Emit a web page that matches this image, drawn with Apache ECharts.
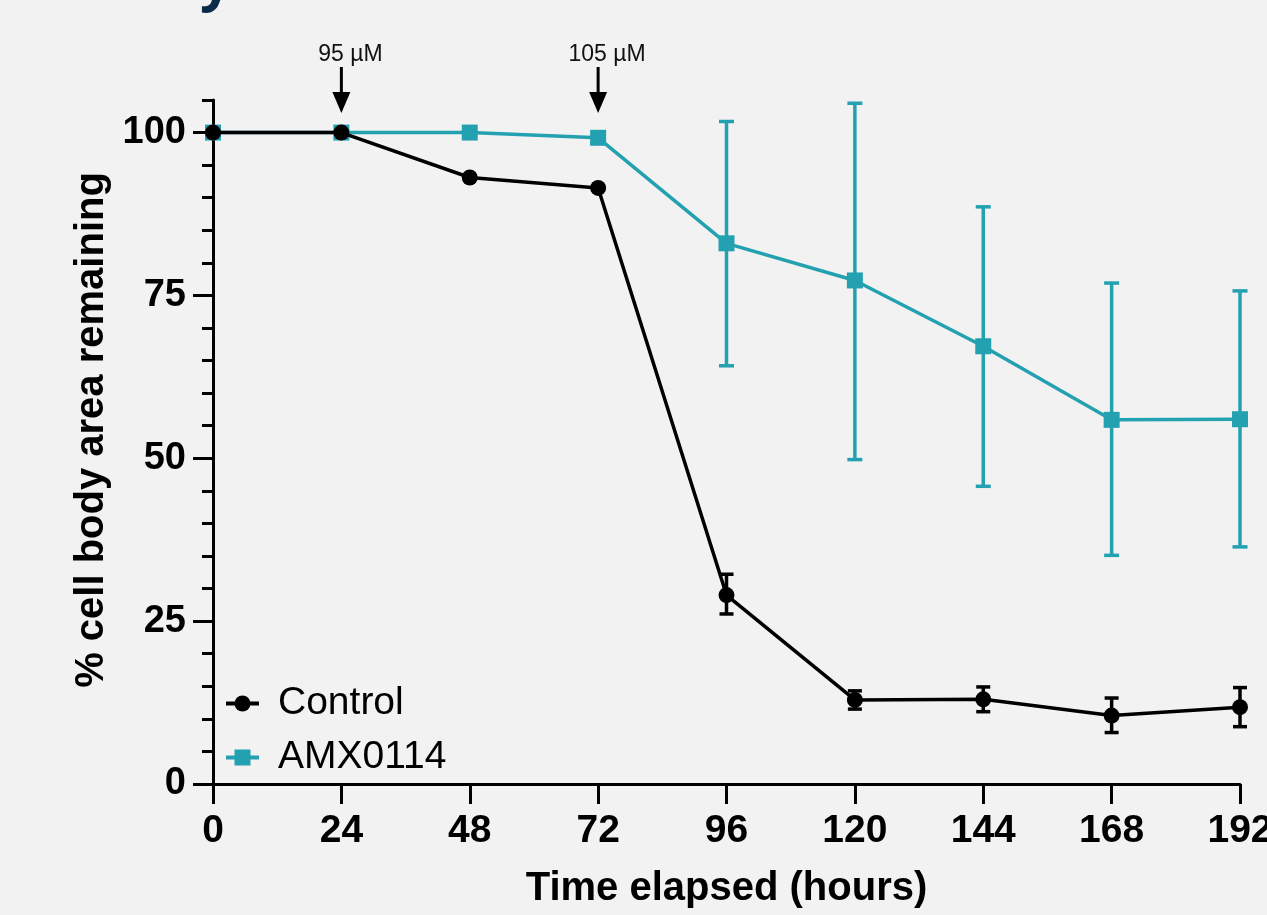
<!DOCTYPE html>
<html><head><meta charset="utf-8">
<script src="https://cdn.jsdelivr.net/npm/echarts@6/dist/echarts.min.js"></script>
<style>html,body{margin:0;padding:0;background:#f2f2f2}#c{width:1267px;height:915px}</style>
</head><body><div id="c"></div>
<script>
const hours = [0, 24, 48, 72, 96, 120, 144, 168, 192];
const controlMean = [100, 100, 93.1, 91.5, 29.0, 12.9, 13.0, 10.5, 11.8];
const controlLow  = [100, 100, 93.1, 91.5, 26.1, 11.5, 11.1, 7.9, 8.8];
const controlHigh = [100, 100, 93.1, 91.5, 32.2, 14.3, 14.9, 13.2, 14.8];
const amxMean = [100, 100, 100, 99.2, 83.0, 77.3, 67.2, 55.9, 56.0];
const amxLow  = [100, 100, 100, 99.2, 64.2, 49.8, 45.7, 35.1, 36.4];
const amxHigh = [100, 100, 100, 99.2, 101.7, 104.5, 88.6, 76.9, 75.7];
const yTicks = [0, 25, 50, 75, 100];
const doseHours = [24, 72];
const doseLabels = ['95 µM', '105 µM'];

const FONT = 'Liberation Sans, Arial, sans-serif';
const TEAL = '#24a1b1';
const BLACK = '#000000';
const Y_MAX = 105;

function pairs(ys) { return hours.map((h, i) => [h, ys[i]]); }
function errData(lo, hi) { return hours.map((h, i) => [h, lo[i], hi[i]]); }

function errRender(color, cap, lw) {
  return function (params, api) {
    const x = api.value(0), lo = api.value(1), hi = api.value(2);
    if (hi - lo < 0.01) return;
    const p1 = api.coord([x, hi]), p2 = api.coord([x, lo]);
    const h = cap / 2;
    const st = { stroke: color, lineWidth: lw };
    return { type: 'group', children: [
      { type: 'line', shape: { x1: p1[0], y1: p1[1], x2: p2[0], y2: p2[1] }, style: st },
      { type: 'line', shape: { x1: p1[0] - h, y1: p1[1], x2: p1[0] + h, y2: p1[1] }, style: st },
      { type: 'line', shape: { x1: p2[0] - h, y1: p2[1], x2: p2[0] + h, y2: p2[1] }, style: st }
    ] };
  };
}

function doseRender(params, api) {
  const x = api.value(0);
  const p = api.coord([x, Y_MAX]);
  const top = p[1];
  const cx = p[0];
  const label = doseLabels[params.dataIndex];
  return { type: 'group', children: [
    { type: 'text', style: { text: label, x: cx + 9, y: top - 45, align: 'center', verticalAlign: 'middle',
        font: 'normal 23px ' + FONT, fill: '#111' } },
    { type: 'line', shape: { x1: cx, y1: top - 33, x2: cx, y2: top - 4 }, style: { stroke: '#000', lineWidth: 3 } },
    { type: 'polygon', shape: { points: [[cx - 9, top - 8], [cx + 9, top - 8], [cx, top + 13]] }, style: { fill: '#000' } }
  ] };
}

const chart = echarts.init(document.getElementById('c'));
chart.setOption({
  backgroundColor: '#f2f2f2',
  animation: false,
  graphic: [{
    type: 'text', left: 200, top: -44, z: 100,
    style: { text: 'y', font: 'bold 56px "Open Sans", sans-serif', fill: '#0b2a4a' }
  }],
  grid: { left: 213, right: 27, top: 100, bottom: 131, outerBoundsMode: 'none', containLabel: false },
  legend: {
    orient: 'vertical', left: 219, top: 679, itemGap: 15,
    itemWidth: 33, itemHeight: 20,
    lineStyle: { width: 4 },
    data: ['Control', 'AMX0114'],
    textStyle: { fontSize: 39, fontFamily: FONT, color: '#000', padding: [0, 0, 0, 14] }
  },
  xAxis: {
    type: 'value', min: 0, max: 192, interval: 24,
    axisLine: { show: true, lineStyle: { color: BLACK, width: 3 } },
    axisTick: { show: true, length: 20, lineStyle: { color: BLACK, width: 3 } },
    axisLabel: { fontSize: 39, fontWeight: 'bold', fontFamily: FONT, color: BLACK, margin: 28 },
    splitLine: { show: false },
    name: 'Time elapsed (hours)', nameLocation: 'middle', nameGap: 85,
    nameTextStyle: { fontSize: 40, fontWeight: 'bold', fontFamily: FONT, color: BLACK }
  },
  yAxis: [{
    type: 'value', min: 0, max: Y_MAX, interval: 25,
    axisLine: { show: true, lineStyle: { color: BLACK, width: 3 } },
    axisTick: { show: true, length: 20, lineStyle: { color: BLACK, width: 3 }, customValues: yTicks },
    axisLabel: { fontSize: 38, fontWeight: 'bold', fontFamily: FONT, color: BLACK, margin: 27, customValues: yTicks },
    splitLine: { show: false },
    name: '% cell body area remaining', nameLocation: 'middle', nameGap: 100,
    nameTextStyle: { fontSize: 40, fontWeight: 'bold', fontFamily: FONT, color: BLACK, padding: [0, 0, 0, 24] }
  }, {
    type: 'value', min: 0, max: Y_MAX, interval: 5, position: 'left',
    axisLine: { show: false },
    axisTick: { show: true, length: 11, lineStyle: { color: BLACK, width: 3 } },
    axisLabel: { show: false },
    splitLine: { show: false }
  }],
  series: [
    { name: 'AMX0114', type: 'line', data: pairs(amxMean), symbol: 'rect', symbolSize: 16,
      itemStyle: { color: TEAL }, lineStyle: { color: TEAL, width: 3.5 }, z: 2 },
    { name: 'AMX0114 err', type: 'custom', data: errData(amxLow, amxHigh), renderItem: errRender(TEAL, 15, 3.5), z: 3 },
    { name: 'Control', type: 'line', data: pairs(controlMean), symbol: 'circle', symbolSize: 16,
      itemStyle: { color: BLACK }, lineStyle: { color: BLACK, width: 3.5 }, z: 4 },
    { name: 'Control err', type: 'custom', data: errData(controlLow, controlHigh), renderItem: errRender(BLACK, 14, 3.5), z: 5 },
    { name: 'doses', type: 'custom', data: doseHours.map(h => [h]), renderItem: doseRender, clip: false, z: 6 }
  ]
});
</script>
</body></html>
